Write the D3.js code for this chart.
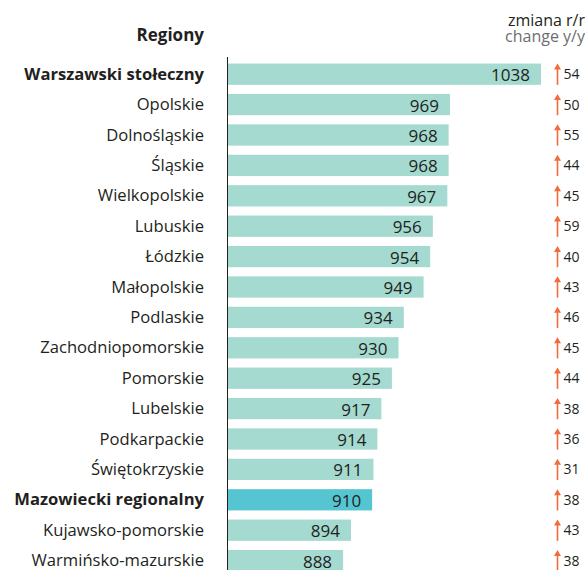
<!DOCTYPE html>
<html>
<head>
<meta charset="utf-8">
<script src="https://cdn.jsdelivr.net/npm/d3@7"></script>
<style>
  body { margin: 0; background: #fff; }
  text { font-family: "Open Sans", sans-serif; fill: #231f20; }
</style>
</head>
<body>
<svg id="main" width="585" height="570"></svg>
<script>
// regions, top to bottom
var regions = ["Warszawski stołeczny", "Opolskie", "Dolnośląskie", "Śląskie", "Wielkopolskie",
  "Lubuskie", "Łódzkie", "Małopolskie", "Podlaskie", "Zachodniopomorskie", "Pomorskie",
  "Lubelskie", "Podkarpackie", "Świętokrzyskie", "Mazowiecki regionalny",
  "Kujawsko-pomorskie", "Warmińsko-mazurskie"];
var values = [1038, 969, 968, 968, 967, 956, 954, 949, 934, 930, 925, 917, 914, 911, 910, 894, 888];
var changes = [54, 50, 55, 44, 45, 59, 40, 43, 46, 45, 44, 38, 36, 31, 38, 43, 38];
var bold = ["Warszawski stołeczny", "Mazowiecki regionalny"];
var highlight = "Mazowiecki regionalny";

var svg = d3.select("#main");

var x = d3.scaleLinear().domain([800, 1038]).range([227, 541]);
var y = d3.scaleBand().domain(regions).range([59, 59 + 30.4 * regions.length]).paddingInner(0.3).paddingOuter(0.15);

// header
svg.append("text").attr("x", 204).attr("y", 41).attr("text-anchor", "end")
  .attr("font-size", 17).attr("font-weight", "bold").text("Regiony");
svg.append("text").attr("x", 585).attr("y", 26).attr("text-anchor", "end")
  .attr("font-size", 16).text("zmiana r/r");
svg.append("text").attr("x", 585).attr("y", 42).attr("text-anchor", "end")
  .attr("font-size", 16).style("fill", "#6d6e71").text("change y/y");

// bars
svg.selectAll("rect.bar").data(regions).enter().append("rect")
  .attr("class", "bar")
  .attr("x", x(800))
  .attr("y", function(d) { return y(d); })
  .attr("width", function(d, i) { return x(values[i]) - x(800); })
  .attr("height", y.bandwidth())
  .attr("fill", function(d) { return d == highlight ? "#55c5d1" : "#a4dad0"; });

// axis line
svg.append("line").attr("x1", 227.5).attr("x2", 227.5).attr("y1", 57).attr("y2", 570)
  .attr("stroke", "#231f20").attr("stroke-width", 1);

// region labels
svg.selectAll("text.lab").data(regions).enter().append("text")
  .attr("class", "lab")
  .attr("x", 204)
  .attr("y", function(d) { return y(d) + y.bandwidth() / 2 + 5.5; })
  .attr("text-anchor", "end")
  .attr("font-size", 16.6)
  .attr("font-weight", function(d) { return bold.indexOf(d) >= 0 ? "bold" : "normal"; })
  .text(function(d) { return d; });

// value labels
svg.selectAll("text.val").data(regions).enter().append("text")
  .attr("class", "val")
  .attr("x", function(d, i) { return x(values[i]) - 11; })
  .attr("y", function(d) { return y(d) + y.bandwidth() / 2 + 7; })
  .attr("text-anchor", "end")
  .attr("font-size", 17)
  .text(function(d, i) { return values[i]; });

// change arrows
var arrows = svg.selectAll("g.chg").data(regions).enter().append("g")
  .attr("class", "chg")
  .attr("transform", function(d) { return "translate(557.5," + y(d) + ")"; });
arrows.append("line").attr("x1", 0).attr("x2", 0).attr("y1", 4).attr("y2", y.bandwidth())
  .attr("stroke", "#f26b3f").attr("stroke-width", 1.6);
arrows.append("path").attr("d", "M-3.5,6 L0,0 L3.5,6 Z").attr("fill", "#f26b3f");
arrows.append("text").attr("x", 6).attr("y", y.bandwidth() / 2 + 5)
  .attr("font-size", 14)
  .text(function(d, i) { return changes[i]; });
</script>
</body>
</html>
